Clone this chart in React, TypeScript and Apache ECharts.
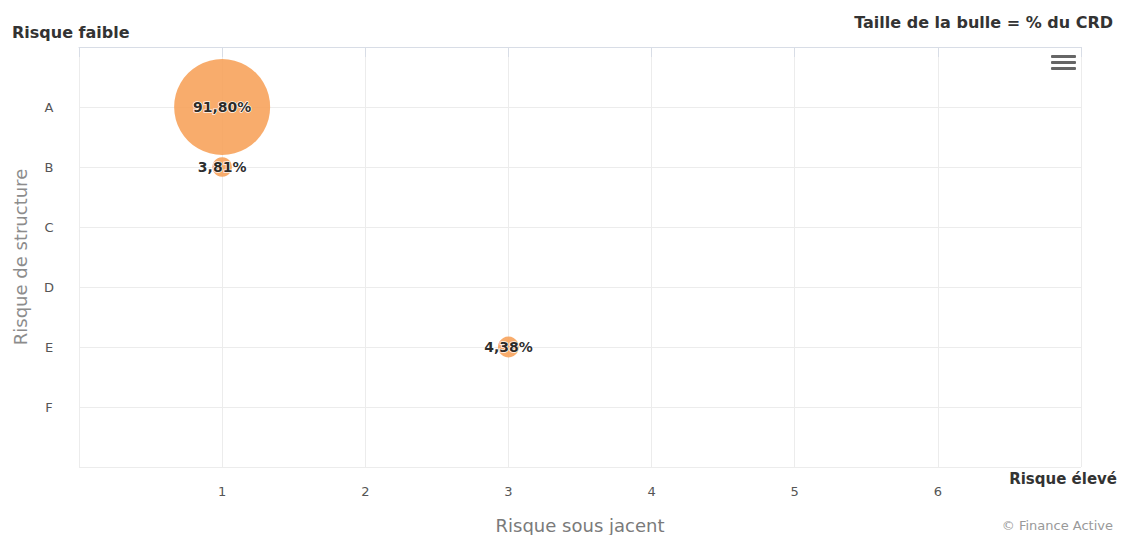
import React, { useEffect, useRef } from "react";
import * as echarts from "echarts";

// Structure risk classes (rows) and underlying-risk scale (columns)
const structureClasses = ["A", "B", "C", "D", "E", "F"];
const underlyingTicks = [1, 2, 3, 4, 5, 6];

// Bubbles: underlying risk, structure class, share of outstanding capital (%)
const bubbleX = [1, 1, 3];
const bubbleClass = ["A", "B", "E"];
const bubbleShare = [91.8, 3.81, 4.38];

const FONT = "'DejaVu Sans', 'Open Sans', sans-serif";
const MAX_RADIUS = 48;

export default function App() {
  const ref = useRef<HTMLDivElement>(null);

  useEffect(() => {
    if (!ref.current) return;
    const chart = echarts.init(ref.current, undefined, { renderer: "svg" });
    const maxShare = Math.max(...bubbleShare);
    const data = bubbleShare.map((v, i) => [
      bubbleX[i],
      structureClasses.indexOf(bubbleClass[i]) + 1,
      v,
    ]);

    chart.setOption({
      animation: false,
      backgroundColor: "#ffffff",
      textStyle: { fontFamily: FONT },
      grid: {
        left: 79,
        right: 40,
        top: 47,
        bottom: 68,
        outerBoundsMode: "none",
        containLabel: false,
      },
      xAxis: {
        type: "value",
        min: 0,
        max: 7,
        interval: 1,
        name: "Risque sous jacent",
        nameLocation: "middle",
        nameGap: 49,
        nameTextStyle: { color: "#7a7a7a", fontSize: 18, fontFamily: FONT },
        axisLine: { show: true, lineStyle: { color: "#d8dde6" } },
        axisTick: { show: true, length: 10, lineStyle: { color: "#d8dde6" } },
        axisLabel: {
          color: "#555",
          fontSize: 13,
          margin: 18,
          formatter: (v: number) => (underlyingTicks.includes(v) ? String(v) : ""),
        },
        splitLine: { show: true, lineStyle: { color: "#ececec" } },
      },
      yAxis: {
        type: "value",
        inverse: true,
        min: 0,
        max: 7,
        interval: 1,
        name: "Risque de structure",
        nameLocation: "middle",
        nameRotate: 90,
        nameGap: 50,
        nameTextStyle: { color: "#8c8c8c", fontSize: 18, fontFamily: FONT },
        axisLine: { show: false },
        axisTick: { show: false },
        axisLabel: {
          color: "#555",
          fontSize: 13,
          margin: 30,
          align: "center",
          formatter: (v: number) => structureClasses[v - 1] ?? "",
        },
        splitLine: { show: true, lineStyle: { color: "#ececec" } },
      },
      series: [
        {
          type: "scatter",
          data,
          symbol: "circle",
          symbolSize: (val: number[]) =>
            2 * MAX_RADIUS * Math.sqrt(val[2] / maxShare),
          itemStyle: { color: "#f7a35c", opacity: 0.9 },
          label: {
            show: true,
            position: "inside",
            formatter: (p: any) => p.value[2].toFixed(2).replace(".", ",") + "%",
            color: "#111",
            fontSize: 14,
            fontWeight: "bold",
            fontFamily: FONT,
            textBorderColor: "#ffffff",
            textBorderWidth: 1.5,
          },
        },
      ],
      graphic: [
        {
          type: "text",
          left: 12,
          top: 24,
          style: {
            text: "Risque faible",
            fill: "#333",
            font: `bold 16px ${FONT}`,
          },
        },
        {
          type: "text",
          right: 8,
          top: 14,
          style: {
            text: "Taille de la bulle = % du CRD",
            fill: "#333",
            font: `bold 16px ${FONT}`,
          },
        },
        {
          type: "text",
          right: 4,
          top: 471,
          style: {
            text: "Risque élevé",
            fill: "#333",
            font: `bold 15px ${FONT}`,
          },
        },
        {
          type: "text",
          right: 8,
          top: 519,
          style: {
            text: "© Finance Active",
            fill: "#999",
            font: `13px ${FONT}`,
          },
        },
        {
          type: "group",
          left: 1051,
          top: 55,
          children: [0, 6, 12].map((dy) => ({
            type: "rect",
            shape: { x: 0, y: dy, width: 25, height: 3, r: 1 },
            style: { fill: "#666" },
          })),
        },
      ],
    });

    return () => chart.dispose();
  }, []);

  return (
    <div
      ref={ref}
      style={{ position: "fixed", left: 0, top: 0, width: 1121, height: 535 }}
    />
  );
}
